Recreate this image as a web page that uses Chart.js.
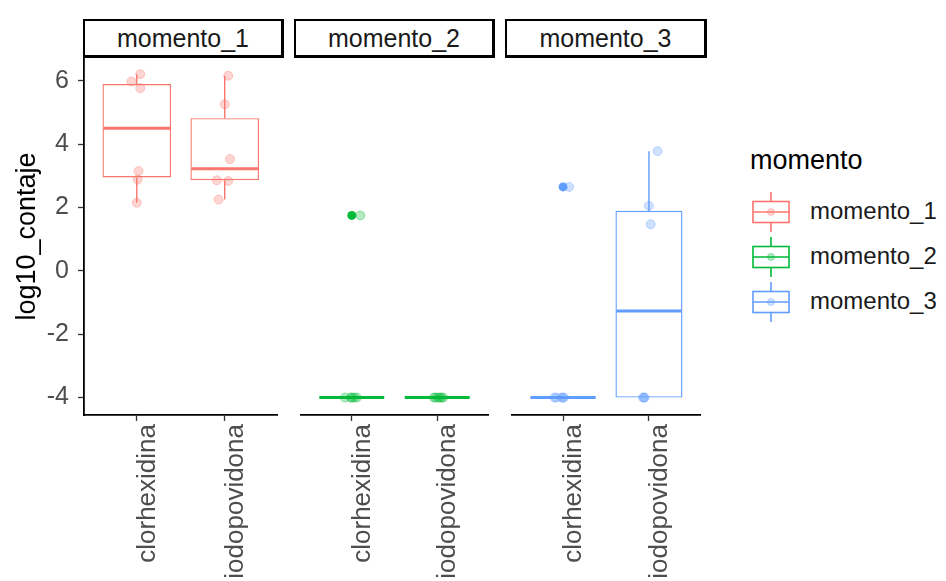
<!DOCTYPE html>
<html lang="es">
<head>
<meta charset="utf-8">
<title>log10_contaje por momento</title>
<script src="https://cdn.jsdelivr.net/npm/chart.js@4.4.1/dist/chart.umd.min.js"></script>
<style>
  html, body { margin: 0; padding: 0; background: #fff; overflow: hidden; }
  body { width: 946px; height: 581px; position: relative; font-family: "Liberation Sans", Arial, sans-serif; }
  canvas { position: absolute; }
  .strip {
    position: absolute; top: 19px; height: 39px; box-sizing: border-box;
    border: 2px solid #000; border-right-width: 3px; border-bottom-width: 3px;
    background: #fff; color: #1a1a1a; font-size: 25px; text-align: center; line-height: 34px;
  }
  .leg-title { position: absolute; left: 750px; top: 145px; font-size: 27px; color: #000; }
  .leg-item { position: absolute; left: 750px; height: 46px; }
  .leg-item svg { position: absolute; left: 0; top: 0; }
  .leg-item span { position: absolute; left: 60px; top: 8px; font-size: 24px; color: #1a1a1a; white-space: nowrap; }
</style>
</head>
<body>
<canvas id="panel1" width="283" height="620" style="left:0;top:34px"></canvas>
<canvas id="panel2" width="199" height="620" style="left:295px;top:34px"></canvas>
<canvas id="panel3" width="200" height="620" style="left:506px;top:34px"></canvas>
<div class="strip" style="left:83px;width:201px">momento_1</div>
<div class="strip" style="left:294px;width:201px">momento_2</div>
<div class="strip" style="left:505px;width:202px">momento_3</div>
<div class="leg-title">momento</div>
<div id="legend"></div>
<script>
const momentos = ['momento_1', 'momento_2', 'momento_3'];
const tratamientos = ['clorhexidina', 'iodopovidona'];
const colores = ['#F8766D', '#00BA38', '#619CFF'];
const yTicks = [-4, -2, 0, 2, 4, 6];

// boxplot stats, [momento][tratamiento]
const bigoteInf = [[2.15, 2.25], [-4, -4], [-4, -4]];
const cuartil1 = [[2.95, 2.86], [-4, -4], [-4, -4]];
const mediana = [[4.50, 3.22], [-4, -4], [-4, -1.27]];
const cuartil3 = [[5.90, 4.82], [-4, -4], [-4, 1.90]];
const bigoteSup = [[6.21, 6.16], [-4, -4], [-4, 3.78]];
const atipicos = [[[], []], [[1.75], []], [[2.65], []]];

// observations (log10) per momento, and the horizontal jitter of each point
const obsM1 = [[6.21, 5.98, 5.77, 3.15, 2.88, 2.15], [6.16, 5.26, 3.53, 2.86, 2.84, 2.25]];
const obsM2 = [[-4, -4, -4, -4, -4, 1.75], [-4, -4, -4, -4, -4, -4]];
const obsM3 = [[-4, -4, -4, -4, -4, 2.65], [-4, -4, -4, 1.47, 2.05, 3.78]];
const jitM1 = [[0.04, -0.06, 0.04, 0.02, 0.01, 0.00], [0.04, 0.00, 0.06, -0.09, 0.04, -0.07]];
const jitM2 = [[-0.08, 0.03, -0.01, 0.06, 0.00, 0.10], [-0.04, 0.05, 0.01, -0.02, 0.07, 0.03]];
const jitM3 = [[-0.10, 0.01, -0.02, 0.00, -0.08, 0.07], [-0.06, -0.05, -0.07, 0.02, 0.00, 0.10]];

const BOX_W = 0.76;
const X_AXIS_H = 239;
const FONT = '"Liberation Sans", Arial';

function alpha(hex, a) {
    const n = parseInt(hex.slice(1), 16);
    return `rgba(${n >> 16}, ${(n >> 8) & 255}, ${n & 255}, ${a})`;
}

function buildPanel(canvasId, p, obs, jit, showY) {
    const col = colores[p];
    const idx = [0, 1];

    const cajas = idx.map(i => ({ x: i + 1, y: [cuartil1[p][i], cuartil3[p][i]] }));
    const bigotes = idx.flatMap(i => [
        { x: i + 1, y: bigoteInf[p][i] }, { x: i + 1, y: cuartil1[p][i] }, { x: i + 1, y: null },
        { x: i + 1, y: cuartil3[p][i] }, { x: i + 1, y: bigoteSup[p][i] }, { x: i + 1, y: null },
    ]);
    const medianas = idx.flatMap(i => [
        { x: i + 1 - BOX_W / 2, y: mediana[p][i] }, { x: i + 1 + BOX_W / 2, y: mediana[p][i] }, { x: i + 1, y: null },
    ]);
    const outl = idx.flatMap(i => atipicos[p][i].map(v => ({ x: i + 1, y: v })));
    const puntos = idx.flatMap(i => obs[i].map((v, k) => ({ x: i + 1 + jit[i][k], y: v })));

    const ctx = document.getElementById(canvasId).getContext('2d');
    new Chart(ctx, {
        type: 'bar',
        data: {
            datasets: [
                {
                    type: 'scatter', data: puntos, order: 0,
                    pointRadius: 4.5, backgroundColor: alpha(col, 0.3), borderColor: alpha(col, 0.35), borderWidth: 1,
                },
                {
                    type: 'scatter', data: outl, order: 1,
                    pointRadius: 4.5, backgroundColor: col, borderWidth: 0,
                },
                {
                    type: 'line', data: medianas, order: 2, spanGaps: false,
                    borderColor: col, borderWidth: 3, pointRadius: 0, borderCapStyle: 'butt',
                },
                {
                    type: 'line', data: bigotes, order: 3, spanGaps: false,
                    borderColor: col, borderWidth: 1.4, pointRadius: 0,
                },
                {
                    type: 'bar', data: cajas, order: 4,
                    backgroundColor: '#ffffff', borderColor: col, borderWidth: 1.4, borderSkipped: false,
                    barPercentage: BOX_W + 0.02, categoryPercentage: 1,
                },
            ],
        },
        options: {
            responsive: false,
            animation: false,
            devicePixelRatio: 1,
            layout: { padding: { top: 24, left: 0, right: 0, bottom: 0 } },
            plugins: { legend: { display: false }, tooltip: { enabled: false } },
            scales: {
                x: {
                    type: 'linear', min: 0.4, max: 2.6, offset: false,
                    afterBuildTicks: s => { s.ticks = [1, 2].map(v => ({ value: v })); },
                    afterFit: s => { s.height = X_AXIS_H; },
                    ticks: {
                        callback: v => tratamientos[v - 1],
                        autoSkip: false, minRotation: 90, maxRotation: 90, padding: 3, labelOffset: 11,
                        color: '#4d4d4d', font: { family: FONT, size: 26 },
                    },
                    grid: { offset: false, drawOnChartArea: false, tickLength: 6, tickColor: '#333', tickWidth: 1.3 },
                    border: { display: true, color: '#000', width: 1.8 },
                },
                y: {
                    type: 'linear', min: -4.55, max: 6.72, display: showY,
                    afterBuildTicks: s => { s.ticks = yTicks.map(v => ({ value: v })); },
                    afterFit: s => { s.width = showY ? 84 : 0; },
                    ticks: { padding: 9, color: '#4d4d4d', font: { family: FONT, size: 25 } },
                    grid: { drawOnChartArea: false, tickLength: 6, tickColor: '#333', tickWidth: 1.3 },
                    border: { display: true, color: '#000', width: 1.8 },
                    title: {
                        display: true, text: 'log10_contaje', color: '#000',
                        font: { family: FONT, size: 27 }, padding: { top: 11, bottom: 0 },
                    },
                },
            },
        },
    });
}

buildPanel('panel1', 0, obsM1, jitM1, true);
buildPanel('panel2', 1, obsM2, jitM2, false);
buildPanel('panel3', 2, obsM3, jitM3, false);

// legend: boxplot key glyphs
const legend = document.getElementById('legend');
const legendY = [212, 257, 302];
momentos.forEach((m, p) => {
    const col = colores[p];
    const item = document.createElement('div');
    item.className = 'leg-item';
    item.style.top = (legendY[p] - 23) + 'px';
    item.innerHTML =
        `<svg width="42" height="46" viewBox="0 0 42 46">
            <line x1="21" y1="3" x2="21" y2="12.5" stroke="${col}" stroke-width="1.6"/>
            <line x1="21" y1="33.5" x2="21" y2="43" stroke="${col}" stroke-width="1.6"/>
            <rect x="3" y="12.5" width="36" height="21" fill="#fff" stroke="${col}" stroke-width="1.6"/>
            <line x1="3" y1="23" x2="39" y2="23" stroke="${col}" stroke-width="1.6"/>
            <circle cx="21" cy="23" r="3.5" fill="${alpha(col, 0.3)}" stroke="${alpha(col, 0.35)}"/>
        </svg><span>${m}</span>`;
    legend.appendChild(item);
});
</script>
</body>
</html>
